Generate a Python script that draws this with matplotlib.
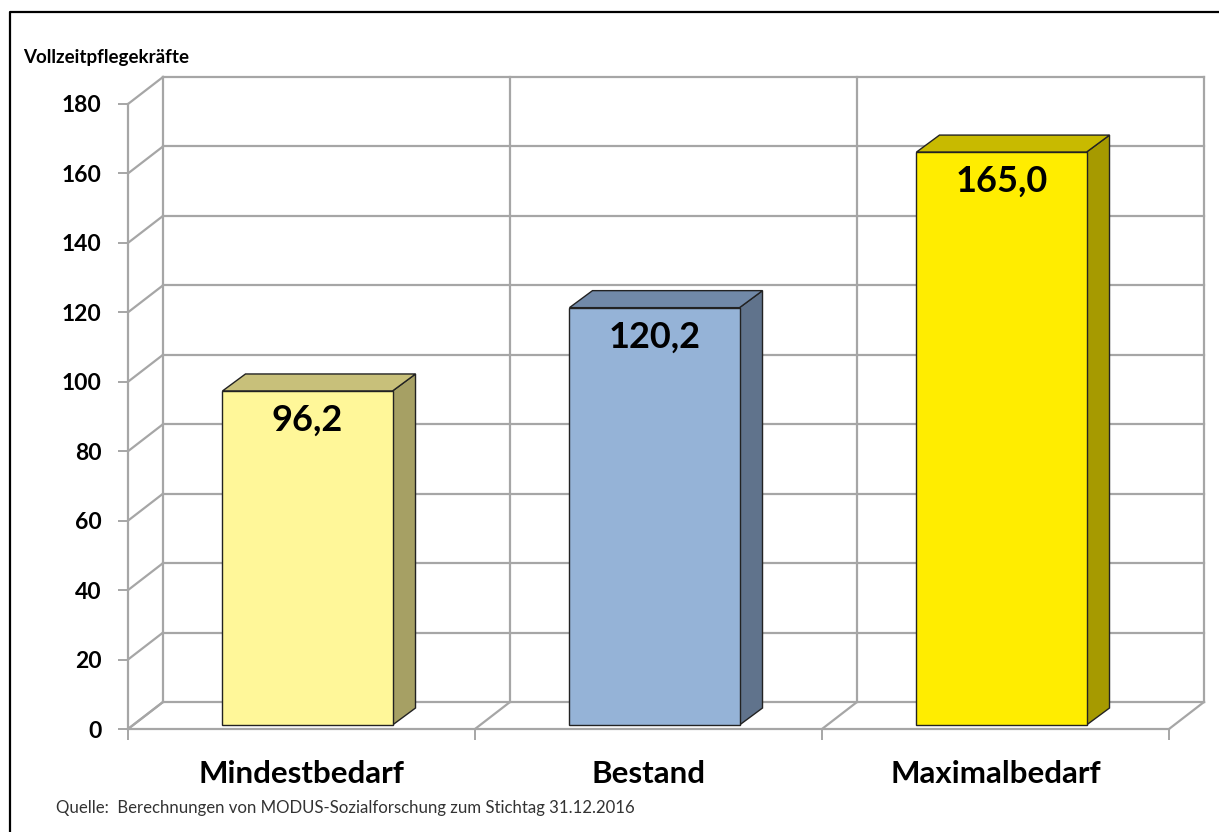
import matplotlib.pyplot as plt
from matplotlib.patches import Polygon
from matplotlib.lines import Line2D

plt.rcParams['font.family'] = ['Lato', 'DejaVu Sans']

categories = ['Mindestbedarf', 'Bestand', 'Maximalbedarf']
values = [96.2, 120.2, 165.0]
value_labels = ['96,2', '120,2', '165,0']
y_ticks = [0, 20, 40, 60, 80, 100, 120, 140, 160, 180]
y_title = 'Vollzeitpflegekräfte'
source = 'Quelle:  Berechnungen von MODUS-Sozialforschung zum Stichtag 31.12.2016'

front_colors = ['#FFF799', '#95B3D7', '#FFED00']
top_colors = ['#C8C07A', '#7189A8', '#C8BA00']
side_colors = ['#A6A064', '#60738C', '#A69A00']
grid_color = '#A6A6A6'

W, H = 1219, 832
fig = plt.figure(figsize=(W / 100, H / 100), dpi=100)
ax_left, ax_bottom, ax_w, ax_h = 128, 103, 1041, 625
ax = fig.add_axes([ax_left / W, ax_bottom / H, ax_w / W, ax_h / H])
ax.set_xlim(0, len(categories))
ax.set_ylim(0, 180)

# pixel -> data unit conversions for the pseudo 3d offsets
px_x = len(categories) / ax_w
px_y = 180 / ax_h
dx, dy = 35 * px_x, 27 * px_y          # wall depth
bdx, bdy = 23 * px_x, 17 * px_y        # bar depth
bx, by = 6 * px_x, 4 * px_y            # bar shift into the depth
bar_w = 0.49

n = len(categories)
glw = 1.6
# back wall horizontal grid + left wall diagonals
for v in y_ticks:
    ax.add_line(Line2D([dx, n + dx], [v + dy, v + dy], color=grid_color, lw=glw, zorder=1, clip_on=False))
    ax.add_line(Line2D([0, dx], [v, v + dy], color=grid_color, lw=glw, zorder=1, clip_on=False))
# back wall verticals + floor diagonals
for i in range(n + 1):
    ax.add_line(Line2D([i + dx, i + dx], [dy, 180 + dy], color=grid_color, lw=glw, zorder=1, clip_on=False))
    ax.add_line(Line2D([i, i + dx], [0, dy], color=grid_color, lw=glw, zorder=1, clip_on=False))
# front axis lines
ax.add_line(Line2D([0, 0], [0, 180], color=grid_color, lw=glw, zorder=1, clip_on=False))
ax.add_line(Line2D([0, n], [0, 0], color=grid_color, lw=glw, zorder=1, clip_on=False))

for i, v in enumerate(values):
    x0 = i + 0.5 - bar_w / 2 + bx
    x1 = x0 + bar_w
    front = [(x0, by), (x1, by), (x1, v + by), (x0, v + by)]
    top = [(x0, v + by), (x1, v + by), (x1 + bdx, v + by + bdy), (x0 + bdx, v + by + bdy)]
    side = [(x1, by), (x1 + bdx, by + bdy), (x1 + bdx, v + by + bdy), (x1, v + by)]
    for pts, c in [(side, side_colors[i]), (top, top_colors[i]), (front, front_colors[i])]:
        ax.add_patch(Polygon(pts, closed=True, facecolor=c, edgecolor='#222222',
                             lw=1.0, joinstyle='miter', zorder=3, clip_on=False))
    ax.annotate(value_labels[i], (i + 0.5 + bx, v + by), xytext=(0, -21), textcoords='offset points',
                ha='center', va='center', fontsize=26, fontweight='bold', color='black', zorder=5)
    ax.annotate(categories[i], (i + 0.5, 0), xytext=(0, -39), textcoords='offset points',
                ha='center', va='baseline', fontsize=22.5, fontweight='bold', color='black')

for s in ax.spines.values():
    s.set_visible(False)
ax.set_yticks(y_ticks)
ax.set_yticklabels([str(t) for t in y_ticks], fontsize=16.5, fontweight='bold')
ax.tick_params(axis='y', length=7, width=1.4, color=grid_color, pad=12)
ax.set_xticks(range(n + 1))
ax.set_xticklabels([])
ax.tick_params(axis='x', length=8, width=1.4, color=grid_color)
ax.patch.set_visible(False)

fig.text(23 / W, 1 - 57 / H, y_title, fontsize=13.5, fontweight='bold', va='center', ha='left')
fig.text(56 / W, 1 - 808 / H, source, fontsize=12.1, color='#333333', va='center', ha='left')

# frame line along top and left
fig.add_artist(Line2D([10 / W, 10 / W, 1.0], [0.0, 1 - 12 / H, 1 - 12 / H],
                      transform=fig.transFigure, color='black', lw=1.6))

fig.savefig('out.png', dpi=100)
